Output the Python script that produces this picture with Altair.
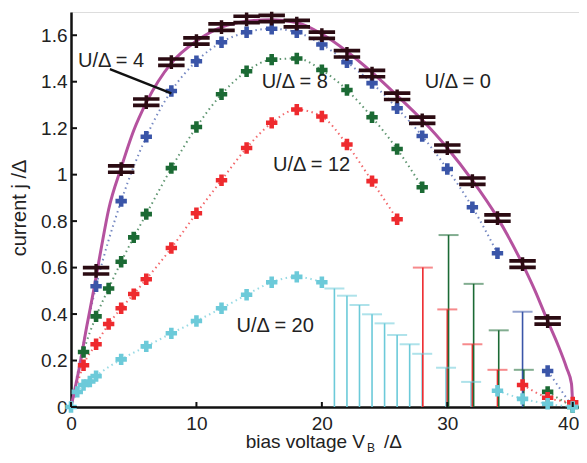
import altair as alt
import pandas as pd

SERIES = ["U0", "U4", "U8", "U12", "U20"]
COLORS = ["#2b0b12", "#3a55a8", "#1b6a34", "#ee2a2e", "#6ccad9"]
CURVE_COLOR = "#b5529f"
FONT = "Liberation Sans"

# U/Δ = 0 exact curve
u0_curve_x = [0, 0.7, 1.25, 1.8, 2.4, 3, 4, 5, 6, 8, 10, 12, 14, 16, 18, 20, 22, 24, 26, 28,
              30, 32, 34, 36, 37, 38, 38.8, 39.5, 39.9, 40]
u0_curve_y = [0, 0.18, 0.345, 0.50, 0.68, 0.85, 1.03, 1.19, 1.31, 1.48, 1.575, 1.635, 1.66, 1.667,
              1.655, 1.605, 1.53, 1.44, 1.34, 1.235, 1.115, 0.975, 0.815, 0.615, 0.50, 0.37, 0.27,
              0.17, 0.10, 0]

# data points
u0_x = [2, 4, 6, 8, 10, 12, 14, 16, 18, 20, 22, 24, 26, 28, 30, 32, 34, 36, 38]
u0_y = [0.586, 1.024, 1.312, 1.484, 1.575, 1.635, 1.668, 1.672, 1.65, 1.60, 1.52, 1.435, 1.337,
        1.234, 1.114, 0.972, 0.813, 0.615, 0.37]

u4_x = [2, 4, 6, 8, 10, 12, 14, 16, 18, 20, 22, 24, 26, 28, 30, 32, 34, 38]
u4_y = [0.52, 0.886, 1.163, 1.36, 1.488, 1.57, 1.613, 1.628, 1.613, 1.56, 1.484, 1.394, 1.286,
        1.166, 1.024, 0.86, 0.662, 0.155]

u8_x = [1, 2, 3, 4, 5, 6, 8, 10, 12, 14, 16, 18, 20, 22, 24, 26, 28, 38, 40]
u8_y = [0.237, 0.39, 0.51, 0.625, 0.73, 0.83, 1.028, 1.205, 1.346, 1.445, 1.495, 1.50, 1.45,
        1.364, 1.247, 1.11, 0.946, 0.065, 0.0]

u12_x = [1, 2, 3, 4, 5, 6, 8, 10, 12, 14, 16, 18, 20, 22, 24, 26, 36, 38, 40]
u12_y = [0.18, 0.27, 0.357, 0.425, 0.486, 0.55, 0.684, 0.834, 0.976, 1.115, 1.223, 1.28, 1.25,
         1.13, 0.972, 0.808, 0.095, 0.04, 0.02]

u20_x = [0, 0.5, 1, 1.5, 2, 4, 6, 8, 10, 12, 14, 16, 18, 20, 34, 36, 38, 40]
u20_y = [0, 0.065, 0.095, 0.11, 0.133, 0.205, 0.261, 0.317, 0.37, 0.425, 0.483, 0.537, 0.56,
         0.537, 0.07, 0.035, 0.014, 0.0]

# dotted guide curves start and end on the axis
dotted_ends_x = [0, 40]
dotted_ends_y = [0, 0]

# large error bars (bottom at 0, top cap value)
eb_series = ["U20"] * 10 + ["U12"] * 4 + ["U8"] * 4 + ["U4"]
eb_x = [21, 22, 23, 24, 25, 26, 27, 28, 29.9, 31.9,
        28.05, 30.0, 32.0, 34.0,
        30.1, 32.1, 34.1, 36.1,
        36.0]
eb_top = [0.51, 0.479, 0.439, 0.399, 0.36, 0.31, 0.27, 0.229, 0.169, 0.108,
          0.60, 0.42, 0.27, 0.16,
          0.74, 0.53, 0.33, 0.16,
          0.41]

labels_text = ["U/Δ = 4", "U/Δ = 8", "U/Δ = 0", "U/Δ = 12", "U/Δ = 20"]
labels_x = [0.56, 15.2, 28.2, 16.1, 13.2]
labels_y = [1.488, 1.398, 1.40, 1.043, 0.35]

pointer_x = [3.1, 8.0]
pointer_y = [1.454, 1.35]

x_ticks = [0, 10, 20, 30, 40]
y_ticks = [0, 0.2, 0.4, 0.6, 0.8, 1.0, 1.2, 1.4, 1.6]

# ---------------- build tables ----------------
series_pts = {"U4": (u4_x, u4_y), "U8": (u8_x, u8_y), "U12": (u12_x, u12_y), "U20": (u20_x, u20_y)}
pts_rows = []
line_rows = []
for s, (xs, ys) in series_pts.items():
    for a, b in zip(xs, ys):
        pts_rows.append({"series": s, "x": a, "y": b})
    pairs = sorted(set(zip(xs, ys)) | {(ex, ey) for ex, ey in zip(dotted_ends_x, dotted_ends_y)
                                       if ex not in xs})
    seg = 0
    prev = None
    for a, b in pairs:
        if prev is not None and a - prev > 2.5:
            seg += 1
        line_rows.append({"series": s, "seg": f"{s}_{seg}", "x": a, "y": b})
        prev = a
pts = pd.DataFrame(pts_rows)
lines = pd.DataFrame(line_rows)
u0_pts = pd.DataFrame({"x": u0_x, "y": u0_y})
curve = pd.DataFrame({"x": u0_curve_x, "y": u0_curve_y})
eb = pd.DataFrame({"series": eb_series, "x": eb_x, "top": eb_top, "lo": [0] * len(eb_x)})
labels = pd.DataFrame({"t": labels_text, "x": labels_x, "y": labels_y})
pointer = pd.DataFrame({"x": pointer_x, "y": pointer_y})
xt = pd.DataFrame({"v": x_ticks})
yt = pd.DataFrame({"v": y_ticks})
one = pd.DataFrame({"k": [0]})

XS = alt.Scale(domain=[0, 40.5], nice=False, zero=False)
YS = alt.Scale(domain=[0, 1.7], nice=False, zero=False)
XAX = alt.Axis(values=x_ticks, ticks=False, tickSize=0, grid=False, domainColor="#111",
               domainWidth=2.5, labelFont=FONT, labelFontSize=19, labelColor="#222",
               labelPadding=7, title=None,
               labelAlign={"condition": {"test": "datum.value == 40", "value": "right"},
                           "value": "center"},
               labelOffset={"condition": {"test": "datum.value == 40", "value": 6},
                            "value": 0})
YAX = alt.Axis(values=y_ticks, ticks=False, tickSize=0, grid=False, domainColor="#111",
               domainWidth=2.5, labelFont=FONT, labelFontSize=19, labelColor="#222",
               labelPadding=4, format="~g", title=None)


def X(f):
    return alt.X(f, type="quantitative", scale=XS, axis=XAX)


def Y(f):
    return alt.Y(f, type="quantitative", scale=YS, axis=YAX)


COL = alt.Color("series:N", scale=alt.Scale(domain=SERIES, range=COLORS), legend=None)

EQ_PATH = "M-1,-0.38H1V-0.1H-1Z M-1,0.1H1V0.38H-1Z M-0.13,-0.52H0.13V0.52H-0.13Z"

bars = alt.Chart(eb).mark_rule(strokeWidth=1.6).encode(x=X("x"), y=Y("lo"), y2="top", color=COL)
caps = alt.Chart(eb).mark_tick(orient="horizontal", size=20, thickness=2, opacity=0.55).encode(
    x=X("x"), y=Y("top"), color=COL)
dotted = alt.Chart(lines).mark_line(strokeDash=[1.5, 3.5], strokeWidth=2, opacity=0.7,
                                    interpolate="monotone").encode(
    x=X("x"), y=Y("y"), color=COL, detail="seg:N", order="x:Q")
u0line = alt.Chart(curve).mark_line(strokeWidth=3, color=CURVE_COLOR, interpolate="monotone").encode(
    x=X("x"), y=Y("y"), order="x:Q")
crosses = alt.Chart(pts).mark_point(shape="cross", filled=True, size=130, opacity=1,
                                    strokeWidth=0).encode(x=X("x"), y=Y("y"), color=COL)
u0marks = alt.Chart(u0_pts).mark_point(shape=EQ_PATH, filled=True, size=700, opacity=1,
                                       strokeWidth=0, color=COLORS[0]).encode(x=X("x"), y=Y("y"))
ann = alt.Chart(labels).mark_text(align="left", baseline="middle", font=FONT, fontSize=20,
                                  color="#222").encode(x=X("x"), y=Y("y"), text="t:N")
ptr = alt.Chart(pointer).mark_line(strokeWidth=2.5, color="#111").encode(x=X("x"), y=Y("y"))
xticks = alt.Chart(xt).mark_rule(strokeWidth=2, color="#111").encode(
    x=X("v"), y=alt.value(395), y2=alt.value(390))
yticks = alt.Chart(yt).mark_rule(strokeWidth=2, color="#111").encode(
    y=Y("v"), x=alt.value(0), x2=alt.value(6))

xt1 = alt.Chart(one).mark_text(align="right", baseline="alphabetic", font=FONT, fontSize=19,
                               color="#222").encode(x=alt.value(294), y=alt.value(436),
                                                    text=alt.value("bias voltage V"))
xt2 = alt.Chart(one).mark_text(align="left", baseline="alphabetic", font=FONT, fontSize=12,
                               color="#222").encode(x=alt.value(296), y=alt.value(440),
                                                    text=alt.value("B"))
xt3 = alt.Chart(one).mark_text(align="left", baseline="alphabetic", font=FONT, fontSize=19,
                               color="#222").encode(x=alt.value(313), y=alt.value(436),
                                                    text=alt.value("/Δ"))
yt1 = alt.Chart(one).mark_text(align="center", baseline="alphabetic", font=FONT, fontSize=20,
                               angle=270, color="#222").encode(x=alt.value(-45), y=alt.value(196),
                                                               text=alt.value("current j /Δ"))

chart = alt.layer(bars, caps, dotted, u0line, crosses, u0marks, ann, ptr, xticks, yticks,
                  xt1, xt2, xt3, yt1).properties(
    width=508, height=395,
    padding={"left": 63, "top": 4, "right": 0, "bottom": 46},
    autosize=alt.AutoSizeParams(type="none"),
).configure_view(stroke=None).configure(background="white")

chart.save("out.html", embed_options={"renderer": "svg", "actions": False})
